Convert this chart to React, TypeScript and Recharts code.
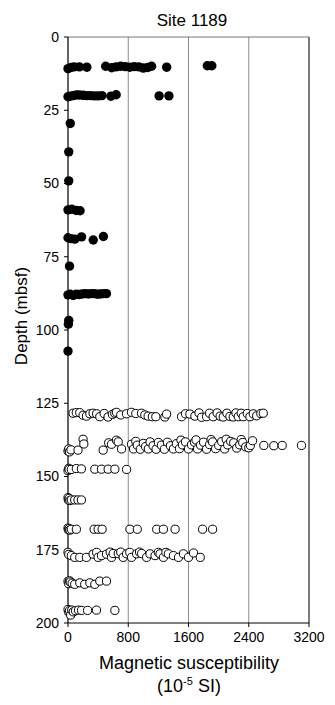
import React from 'react';
import {
  ScatterChart,
  Scatter,
  XAxis,
  YAxis,
  CartesianGrid,
  ReferenceLine,
} from 'recharts';

// [susceptibility (10^-5 SI), depth (mbsf)]
type Pt = [number, number];

const TITLE = 'Site 1189';
const X_TICKS = [0, 800, 1600, 2400, 3200];
const Y_TICKS = [0, 25, 50, 75, 100, 125, 150, 175, 200];

// filled circles, upper section
const closedTop: Pt[] = [
  [0, 10.8], [40, 10.4], [80, 10.2], [150, 10.2], [250, 10.3],
  [500, 10], [580, 10.5], [640, 10.2], [700, 10], [760, 10.1], [820, 10.3],
  [880, 10.1], [940, 10.2], [1000, 10.6], [1060, 10.4], [1110, 10],
  [1310, 10.3], [1850, 9.8], [1910, 9.8],
  [0, 20.4], [30, 20.2], [70, 20], [110, 19.8], [150, 19.8], [200, 19.9],
  [250, 20], [300, 20], [350, 20.1], [400, 20.1], [450, 20], [570, 20.2],
  [640, 19.7], [1210, 20.1], [1340, 20.1],
];

const closedMid: Pt[] = [
  [30, 29.5], [10, 39.2], [10, 49.1],
  [0, 59], [50, 58.8], [110, 59.2], [160, 59.3],
  [0, 68.5], [40, 68.8], [90, 69], [180, 68.2], [335, 69.3], [470, 68.1],
  [20, 78.2],
];

const closedLow: Pt[] = [
  [0, 88], [30, 87.8], [70, 88.2], [110, 87.8], [150, 87.9], [190, 87.7],
  [230, 87.6], [270, 87.7], [310, 87.6], [350, 87.6], [390, 87.8],
  [430, 87.7], [470, 87.6], [510, 87.6],
  [10, 96.7], [5, 98], [0, 107.2],
];

// open circles
const open128: Pt[] = [
  [67, 128.4], [110, 128.2], [156, 128.2], [200, 129.1], [245, 129.4],
  [290, 128.6], [333, 128.4], [380, 128.6], [422, 129.6], [480, 128.5],
  [532, 129.7], [590, 128.8], [621, 128.4], [644, 128.1], [700, 129],
  [777, 128.6], [843, 128.1], [900, 128.5], [976, 128.4], [1020, 129],
  [1064, 129.4], [1120, 129.6], [1166, 129.6], [1286, 129.7], [1309, 128.7],
  [1508, 129.6], [1560, 128.6], [1618, 128.7], [1685, 129.4], [1740, 128.3],
  [1774, 129.8], [1840, 129.6], [1880, 128.4], [1928, 129.6], [1980, 128.3],
  [2020, 129.4], [2061, 129.7], [2110, 128.4], [2150, 129.5], [2194, 129.7],
  [2230, 128.3], [2261, 129.6], [2300, 128.4], [2327, 129.6], [2380, 128.5],
  [2416, 129.6], [2460, 128.6], [2505, 129.3], [2560, 128.5], [2593, 128.4],
];

const open139: Pt[] = [
  [0, 141.3], [10, 140.6], [20, 141.6], [40, 140.9], [133, 141],
  [200, 137.3], [210, 138.9], [467, 141], [540, 138.5], [578, 139],
  [644, 137.6], [667, 138.2], [711, 140.6], [844, 139], [870, 140.6],
  [900, 138], [920, 139.3], [960, 140.7], [1000, 138.7], [1030, 139.8],
  [1067, 140.6], [1090, 138.2], [1130, 139.5], [1170, 140.7], [1200, 138.4],
  [1240, 139.3], [1280, 140.7], [1320, 138.3], [1360, 139.5], [1400, 140.6],
  [1440, 138.8], [1480, 140.5], [1500, 137.6], [1520, 139.2], [1560, 138.2],
  [1600, 140.6], [1640, 139.2], [1680, 138.3], [1700, 137.5], [1720, 140.6],
  [1760, 139.3], [1800, 138.3], [1840, 140.7], [1880, 139.1], [1900, 137.4],
  [1920, 138.2], [1960, 140.5], [2000, 139.4], [2040, 138.1], [2080, 140.6],
  [2100, 137.3], [2120, 139.2], [2160, 138], [2200, 138.5], [2240, 140.3],
  [2280, 139.2], [2300, 137.4], [2320, 138.4], [2360, 139.9], [2400, 140.2],
  [2422, 139.4], [2450, 137.8], [2600, 139.4], [2733, 139.5], [2844, 139.4],
  [3100, 139.4],
];

const open147to168: Pt[] = [
  [0, 148], [10, 147.2], [15, 147.6], [44, 147.6], [111, 147.3],
  [178, 147.4], [356, 147.5], [444, 147.5], [533, 147.5], [622, 147.5],
  [778, 147.6],
  [0, 157.2], [5, 158], [15, 157.5], [25, 158.2], [44, 158], [89, 158],
  [133, 158], [178, 158],
  [0, 167.6], [5, 168.2], [15, 167.8], [25, 168.3], [44, 168], [111, 168],
  [347, 168], [400, 168], [453, 168], [822, 168], [920, 168], [1178, 168],
  [1267, 168], [1422, 168], [1787, 168], [1920, 168],
];

const open177: Pt[] = [
  [0, 175.9], [10, 176.6], [44, 177], [89, 177.6], [156, 177.6],
  [244, 177.6], [333, 176.5], [380, 175.9], [400, 177.6], [444, 177],
  [511, 176.5], [560, 175.8], [578, 177.6], [600, 176.3], [667, 176.3],
  [700, 175.8], [733, 177.6], [778, 176.4], [820, 175.9], [844, 177.6],
  [911, 176.4], [950, 175.8], [978, 176.3], [1044, 177.6], [1089, 176.4],
  [1156, 177], [1200, 175.9], [1222, 176.4], [1267, 177.6], [1300, 175.9],
  [1333, 176.4], [1400, 177], [1467, 177.6], [1533, 176.4], [1600, 177.6],
  [1667, 176.1], [1756, 177.6],
];

const open186to197: Pt[] = [
  [0, 185.8], [10, 186.6], [20, 185.6], [30, 186], [55, 186.4],
  [89, 186.8], [156, 186.3], [222, 186.8], [290, 186.3], [356, 186.8],
  [422, 185.7], [511, 185.7],
  [0, 195.4], [10, 196.3], [20, 195.8], [35, 197.3], [50, 195.6],
  [70, 196.2], [100, 195.8], [140, 195.6], [180, 195.7], [260, 195.7],
  [378, 195.6], [622, 195.7],
];

const toRows = (pts: Pt[]) => pts.map(([ms, depth]) => ({ ms, depth }));

const closedData = toRows([...closedTop, ...closedMid, ...closedLow]);
const openData = toRows([
  ...open128,
  ...open139,
  ...open147to168,
  ...open177,
  ...open186to197,
]);

const FONT = '"Liberation Sans", Arial, Helvetica, sans-serif';

const FilledDot = (p: any) => (
  <circle cx={p.cx} cy={p.cy} r={4.7} fill="#000" />
);
const OpenDot = (p: any) => (
  <circle cx={p.cx} cy={p.cy} r={4.1} fill="#fff" stroke="#000" strokeWidth={1} />
);

const tickStyle = { fontSize: 14, fill: '#000', fontFamily: FONT };

export default function App() {
  return (
    <div style={{ position: 'relative', width: 327, height: 689, fontFamily: FONT, color: '#000' }}>
      <ScatterChart
        width={327}
        height={689}
        margin={{ top: 29, right: 26, bottom: 44, left: 0 }}
      >
        <CartesianGrid vertical horizontal={false} stroke="#8c8c8c" />
        <XAxis
          type="number"
          dataKey="ms"
          domain={[0, 3200]}
          ticks={X_TICKS}
          height={30}
          tickSize={4}
          tickMargin={5}
          stroke="#000"
          tick={tickStyle}
          interval={0}
        />
        <YAxis
          type="number"
          dataKey="depth"
          domain={[0, 200]}
          ticks={Y_TICKS}
          reversed
          width={60}
          tickSize={4}
          tickMargin={5}
          stroke="#000"
          tick={tickStyle}
          interval={0}
        />
        <ReferenceLine y={0} stroke="#777" />
        <ReferenceLine x={3200} stroke="#333" />
        <Scatter data={closedData} shape={FilledDot} isAnimationActive={false} />
        <Scatter data={openData} shape={OpenDot} isAnimationActive={false} />
      </ScatterChart>

      <div
        style={{
          position: 'absolute',
          left: 84,
          width: 200,
          top: 3,
          textAlign: 'center',
          fontSize: 17,
          lineHeight: '20px',
        }}
      >
        {TITLE}
      </div>

      <div
        style={{
          position: 'absolute',
          left: 14 - 80,
          top: 308 - 11,
          width: 160,
          height: 22,
          lineHeight: '22px',
          textAlign: 'center',
          fontSize: 17,
          transform: 'rotate(-90deg)',
        }}
      >
        Depth (mbsf)
      </div>

      <div
        style={{
          position: 'absolute',
          left: 31,
          width: 300,
          top: 644,
          textAlign: 'center',
          fontSize: 18,
          lineHeight: '23px',
        }}
      >
        <div>Magnetic susceptibility</div>
        <div>
          (10
          <span style={{ fontSize: 11, position: 'relative', top: -7 }}>-5</span> SI)
        </div>
      </div>
    </div>
  );
}
